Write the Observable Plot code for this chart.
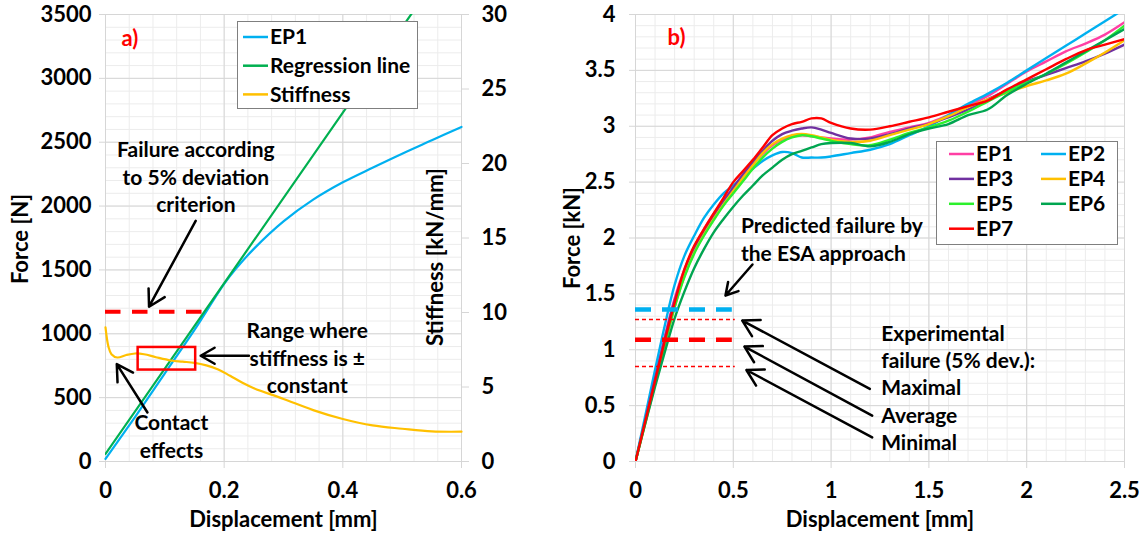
<!DOCTYPE html>
<html><head><meta charset="utf-8">
<script src="https://cdn.jsdelivr.net/npm/d3@7"></script>
<script src="https://cdn.jsdelivr.net/npm/@observablehq/plot@0.6"></script>
<style>
body{margin:0;background:#fff;}
#wrap{position:relative;width:1145px;height:538px;overflow:hidden;font-family:Lato,"Open Sans",sans-serif;font-weight:700;}
#wrap > svg{position:absolute;top:0;}
.legend{position:absolute;background:#fff;border:1.5px solid #7f7f7f;box-sizing:border-box;}
</style></head><body><div id="wrap"></div>
<script>
// ---------- Panel a data ----------
const aDisp = [0,0.05,0.1,0.15,0.2,0.22,0.25,0.3,0.35,0.4,0.45,0.5,0.55,0.6];
const aForceEP1 = [20,350,690,1030,1390,1510,1665,1880,2050,2186,2300,2410,2515,2620];
const regDisp = [0,0.6];
const regForce = [60,4068];
const stiffDisp = [0,0.005,0.01,0.02,0.035,0.05,0.065,0.085,0.11,0.13,0.15,0.17,0.19,0.21,0.23,0.25,0.3,0.35,0.4,0.45,0.5,0.55,0.6];
const stiffness = [9.0,7.7,7.2,6.98,7.15,7.25,7.2,7.0,6.78,6.7,6.62,6.45,6.18,5.75,5.3,4.92,4.2,3.45,2.85,2.42,2.2,2.02,2.0];
const aXTicks = [0,0.2,0.4,0.6];
const aYTicks = [0,500,1000,1500,2000,2500,3000,3500];
const aY2Ticks = [0,5,10,15,20,25,30];
const aSeriesNames = ["EP1","Regression line","Stiffness"];
const aSeriesColors = ["#00b0f0","#00b050","#ffc000"];

// ---------- Panel b data ----------
const bDisp = [0,0.05,0.1,0.15,0.2,0.25,0.3,0.35,0.4,0.45,0.5,0.55,0.6,0.65,0.7,0.75,0.8,0.85,0.9,0.95,1.0,1.1,1.2,1.3,1.4,1.5,1.6,1.7,1.8,1.9,2.0,2.1,2.2,2.3,2.4,2.5];
const EP1 = [0,0.38,0.76,1.12,1.46,1.72,1.92,2.08,2.22,2.34,2.45,2.56,2.66,2.75,2.83,2.88,2.91,2.92,2.91,2.9,2.89,2.88,2.9,2.95,2.99,3.03,3.1,3.18,3.27,3.38,3.49,3.58,3.67,3.74,3.82,3.93];
const EP2 = [0,0.41,0.82,1.22,1.58,1.84,2.02,2.18,2.3,2.4,2.47,2.55,2.62,2.69,2.74,2.77,2.76,2.72,2.72,2.72,2.73,2.76,2.79,2.84,2.92,3.0,3.1,3.2,3.29,3.39,3.5,3.61,3.72,3.83,3.94,4.05];
const EP3 = [0,0.37,0.74,1.1,1.44,1.7,1.9,2.06,2.2,2.33,2.45,2.57,2.68,2.78,2.87,2.93,2.96,2.98,2.99,2.97,2.94,2.89,2.89,2.93,2.98,3.02,3.08,3.15,3.24,3.32,3.4,3.46,3.52,3.58,3.65,3.73];
const EP4 = [0,0.34,0.69,1.04,1.38,1.66,1.87,2.03,2.17,2.3,2.42,2.54,2.65,2.76,2.84,2.89,2.92,2.93,2.92,2.9,2.88,2.86,2.87,2.92,2.97,3.02,3.09,3.17,3.24,3.3,3.36,3.41,3.47,3.56,3.66,3.77];
const EP5 = [0,0.35,0.7,1.05,1.38,1.65,1.86,2.02,2.16,2.29,2.4,2.51,2.62,2.72,2.8,2.86,2.9,2.92,2.91,2.89,2.87,2.84,2.83,2.88,2.94,2.99,3.05,3.13,3.22,3.31,3.39,3.47,3.56,3.66,3.77,3.9];
const EP6 = [0,0.34,0.67,0.98,1.28,1.52,1.73,1.9,2.05,2.17,2.28,2.38,2.47,2.56,2.63,2.7,2.75,2.78,2.81,2.84,2.85,2.85,2.82,2.86,2.93,2.98,3.02,3.1,3.15,3.28,3.38,3.47,3.57,3.67,3.77,3.87];
const EP7 = [0,0.36,0.72,1.08,1.42,1.72,1.93,2.08,2.22,2.36,2.5,2.6,2.7,2.81,2.92,2.98,3.02,3.04,3.07,3.07,3.03,2.98,2.97,3.0,3.04,3.08,3.13,3.18,3.23,3.33,3.42,3.51,3.6,3.68,3.73,3.78];
const bNames = ["EP1","EP2","EP3","EP4","EP5","EP6","EP7"];
const bColors = ["#ff3fa4","#00b0f0","#7030a0","#ffc000","#2cf02c","#00a550","#ff0000"];
const bXTicks = [0,0.5,1,1.5,2,2.5];
const bYTicks = [0,0.5,1,1.5,2,2.5,3,3.5,4];
const predictedFailure = 1.36;
const expMax = 1.27, expAvg = 1.09, expMin = 0.85;

// ---------- build ----------
const wrap = document.getElementById("wrap");
const FONT = "Lato, 'Open Sans', sans-serif";
const MAJ = "#d6d6d6", MIN = "#ececec";
const baseStyle = {fontFamily: FONT, fontSize: "22px", fontWeight: "700", color: "#000", background: "transparent", overflow: "visible"};
const S = 3500 / 30;
const TXT = 21;

const epA = aDisp.map((x,i)=>({x, y:aForceEP1[i]}));
const regA = regDisp.map((x,i)=>({x, y:regForce[i]}));
const stA = stiffDisp.map((x,i)=>({x, s:stiffness[i]}));

const plotA = Plot.plot({
  width: 530, height: 538,
  marginLeft: 105, marginRight: 69, marginTop: 14, marginBottom: 77,
  x: {domain: [0, 0.6], axis: null},
  y: {domain: [0, 3500], axis: null},
  style: baseStyle,
  marks: [
    Plot.ruleX(d3.range(0, 0.6001, 0.04), {stroke: MIN}),
    Plot.ruleY(d3.range(0, 3501, 100), {stroke: MIN}),
    Plot.ruleX(aXTicks, {stroke: MAJ}),
    Plot.ruleY(aYTicks, {stroke: MAJ}),
    Plot.axisX({ticks: aXTicks, tickSize: 7, tickPadding: 14, stroke: MAJ, fill: "#000", tickFormat: d => String(d)}),
    Plot.axisY({ticks: aYTicks, tickSize: 6, tickPadding: 8, stroke: MAJ, fill: "#000", tickFormat: d => String(d)}),
    Plot.axisY({anchor: "right", ticks: aY2Ticks.map(v => v * S), tickSize: 7, tickPadding: 13, stroke: MAJ, fill: "#000", tickFormat: d => String(Math.round(d / S))}),
    Plot.line(epA, {x: "x", y: "y", stroke: aSeriesColors[0], strokeWidth: 2.2, curve: "catmull-rom"}),
    Plot.line(regA, {x: "x", y: "y", stroke: aSeriesColors[1], strokeWidth: 2.2, clip: true}),
    Plot.line(stA, {x: "x", y: d => d.s * S, stroke: aSeriesColors[2], strokeWidth: 2.2, curve: "catmull-rom"}),
    Plot.ruleY([{y: 1173, x1: 0, x2: 0.166}], {y: "y", x1: "x1", x2: "x2", stroke: "#ff0000", strokeWidth: 4, strokeDasharray: "15.5,11.5"}),
    Plot.rect([{x1: 0.055, x2: 0.152, y1: 716, y2: 893}], {x1: "x1", x2: "x2", y1: "y1", y2: "y2", fill: "none", stroke: "#ff0000", strokeWidth: 2.5}),
    Plot.arrow([
      {x1: 0.152, y1: 1884, x2: 0.0734, y2: 1212},
      {x1: 0.2417, y1: 828, x2: 0.1604, y2: 828},
      {x1: 0.0707, y1: 384, x2: 0.019, y2: 763}
    ], {x1: "x1", y1: "y1", x2: "x2", y2: "y2", stroke: "#000", strokeWidth: 2.5, headLength: 11, bend: 0}),
    Plot.text([{x: 0.041, y: 3310, t: "a)"}], {x: "x", y: "y", text: "t", fill: "#ff0000", fontSize: 22}),
    Plot.text([
      {x: 0.1523, y: 2238, t: "Failure according\nto 5% deviation\ncriterion"},
      {x: 0.34, y: 820, t: "Range where\nstiffness is ±\nconstant"},
      {x: 0.111, y: 209, t: "Contact\neffects"}
    ], {x: "x", y: "y", text: "t", fontSize: TXT, lineHeight: 1.32, fill: "#000"}),
    Plot.text(["Force [N]"], {text: d => d, frameAnchor: "left", dx: -85, dy: 1, rotate: -90, textAnchor: "middle", lineAnchor: "middle"}),
    Plot.text(["Stiffness [kN/mm]"], {text: d => d, frameAnchor: "right", dx: -26, dy: 19, rotate: -90, textAnchor: "middle", lineAnchor: "middle"}),
    Plot.text(["Displacement [mm]"], {text: d => d, frameAnchor: "bottom", dy: 58, textAnchor: "middle", lineAnchor: "middle"})
  ]
});
plotA.style.left = "0px";
wrap.appendChild(plotA);

const bSeries = [EP1, EP2, EP3, EP4, EP5, EP6, EP7];
const bData = bSeries.flatMap((ys, k) => bDisp.map((x, i) => ({x, y: ys[i], s: bNames[k]})));

const plotB = Plot.plot({
  width: 615, height: 538,
  marginLeft: 105, marginRight: 21, marginTop: 14, marginBottom: 77,
  x: {domain: [0, 2.5], axis: null},
  y: {domain: [0, 4], axis: null},
  color: {domain: bNames, range: bColors},
  style: baseStyle,
  marks: [
    Plot.ruleX(d3.range(0, 2.501, 0.1), {stroke: MIN}),
    Plot.ruleY(d3.range(0, 4.001, 0.1), {stroke: MIN}),
    Plot.ruleX(bXTicks, {stroke: MAJ}),
    Plot.ruleY(bYTicks, {stroke: MAJ}),
    Plot.axisX({ticks: bXTicks, tickSize: 7, tickPadding: 14, stroke: MAJ, fill: "#000", tickFormat: d => String(d)}),
    Plot.axisY({ticks: bYTicks, tickSize: 6, tickPadding: 14, stroke: MAJ, fill: "#000", tickFormat: d => String(d)}),
    Plot.line(bData, {x: "x", y: "y", z: "s", stroke: "s", strokeWidth: 2.4, curve: "catmull-rom", clip: true}),
    Plot.ruleY([{y: predictedFailure, x1: 0, x2: 0.495}], {y: "y", x1: "x1", x2: "x2", stroke: "#00b0f0", strokeWidth: 4.5, strokeDasharray: "16,11"}),
    Plot.ruleY([{y: expAvg, x1: 0, x2: 0.495}], {y: "y", x1: "x1", x2: "x2", stroke: "#ff0000", strokeWidth: 4.5, strokeDasharray: "16,11"}),
    Plot.ruleY([{y: expMax, x1: 0, x2: 0.51}, {y: expMin, x1: 0, x2: 0.51}], {y: "y", x1: "x1", x2: "x2", stroke: "#ff0000", strokeWidth: 1.5, strokeDasharray: "4,3"}),
    Plot.arrow([
      {x1: 0.598, y1: 1.763, x2: 0.46, y2: 1.485},
      {x1: 1.198, y1: 0.649, x2: 0.546, y2: 1.261},
      {x1: 1.21, y1: 0.41, x2: 0.557, y2: 1.028},
      {x1: 1.21, y1: 0.215, x2: 0.567, y2: 0.819}
    ], {x1: "x1", y1: "y1", x2: "x2", y2: "y2", stroke: "#000", strokeWidth: 2.5, headLength: 11, bend: 0}),
    Plot.text([{x: 0.21, y: 3.79, t: "b)"}], {x: "x", y: "y", text: "t", fill: "#ff0000", fontSize: 22}),
    Plot.text([
      {x: 0.539, y: 1.997, t: "Predicted failure by\nthe ESA approach"},
      {x: 1.256, y: 0.669, t: "Experimental\nfailure (5% dev.):\nMaximal\nAverage\nMinimal"}
    ], {x: "x", y: "y", text: "t", textAnchor: "start", fontSize: TXT, lineHeight: 1.3, fill: "#000"}),
    Plot.text(["Force [kN]"], {text: d => d, frameAnchor: "left", dx: -63, rotate: -90, textAnchor: "middle", lineAnchor: "middle"}),
    Plot.text(["Displacement [mm]"], {text: d => d, frameAnchor: "bottom", dy: 58, textAnchor: "middle", lineAnchor: "middle"})
  ]
});
plotB.style.left = "530px";
wrap.appendChild(plotB);

// ---------- legends ----------
function legend(left, top, w, h, items) {
  const div = document.createElement("div");
  div.className = "legend";
  Object.assign(div.style, {left: left + "px", top: top + "px", width: w + "px", height: h + "px"});
  const ns = "http://www.w3.org/2000/svg";
  const svg = document.createElementNS(ns, "svg");
  svg.setAttribute("width", w); svg.setAttribute("height", h);
  svg.style.position = "absolute"; svg.style.left = "-1.5px"; svg.style.top = "-1.5px"; svg.style.overflow = "visible";
  for (const it of items) {
    const l = document.createElementNS(ns, "line");
    l.setAttribute("x1", it.lx); l.setAttribute("x2", it.lx + 25);
    l.setAttribute("y1", it.y); l.setAttribute("y2", it.y);
    l.setAttribute("stroke", it.color); l.setAttribute("stroke-width", 2.5);
    svg.appendChild(l);
    const t = document.createElementNS(ns, "text");
    t.setAttribute("x", it.lx + 27); t.setAttribute("y", it.y);
    t.setAttribute("dy", "0.35em");
    t.setAttribute("font-family", FONT); t.setAttribute("font-size", "21"); t.setAttribute("font-weight", "700");
    t.textContent = it.name;
    svg.appendChild(t);
  }
  div.appendChild(svg);
  wrap.appendChild(div);
}
legend(237, 21, 181, 88, aSeriesNames.map((name, i) => ({name, color: aSeriesColors[i], lx: 6, y: 16 + i * 28.7})));
legend(936, 141, 182, 104, bNames.map((name, i) => ({name, color: bColors[i], lx: i % 2 ? 105 : 13, y: 13 + Math.floor(i / 2) * 24.9})));
</script>
</body></html>
